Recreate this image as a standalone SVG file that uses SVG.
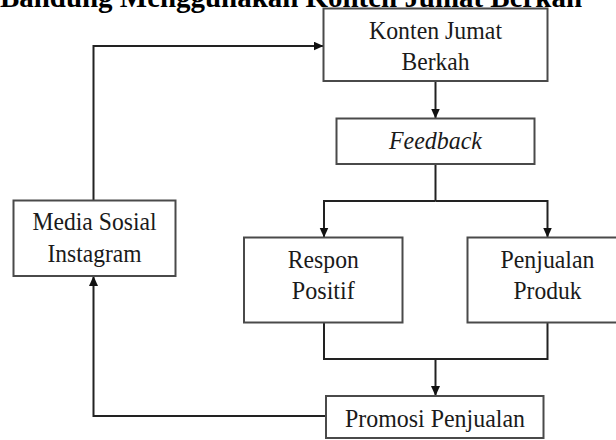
<svg xmlns="http://www.w3.org/2000/svg" width="616" height="440" viewBox="0 0 616 440">
  <style>
    .box { fill: #ffffff; stroke: #4a4a4a; stroke-width: 2; }
    .lbl { font-family: "Liberation Serif", "Times New Roman", serif; font-size: 25.5px; fill: #1a1a1a; text-anchor: middle; }
    .it { font-style: italic; }
    .title { font-family: "Liberation Serif", "Times New Roman", serif; font-size: 29px; font-weight: bold; fill: #000000; }
    .edge { fill: none; stroke: #222222; stroke-width: 2; }
  </style>
  <defs>
    <marker id="arrow" markerUnits="userSpaceOnUse" markerWidth="11" markerHeight="10" refX="10" refY="4.5" orient="auto">
      <path d="M0,0 L10,4.5 L0,9 Z" fill="#111111"/>
    </marker>
  </defs>
  <rect width="616" height="440" fill="#ffffff"/>

  <text class="title" x="0" y="7" textLength="582" lengthAdjust="spacingAndGlyphs">Bandung Menggunakan Konten Jumat Berkah</text>

  <g id="connectors">
    <path class="edge" d="M93.5,200.5 L93.5,46 L323.5,46" marker-end="url(#arrow)"/>
    <path class="edge" d="M435.5,81 L435.5,118.5" marker-end="url(#arrow)"/>
    <path class="edge" d="M435.5,164 L435.5,201"/>
    <path class="edge" d="M435.5,201 L324,201 L324,237.5" marker-end="url(#arrow)"/>
    <path class="edge" d="M435.5,201 L547.5,201 L547.5,237.5" marker-end="url(#arrow)"/>
    <path class="edge" d="M324,322.5 L324,359 L547.5,359 L547.5,322.5"/>
    <path class="edge" d="M435.5,359 L435.5,396" marker-end="url(#arrow)"/>
    <path class="edge" d="M326,416 L93.5,416 L93.5,276" marker-end="url(#arrow)"/>
  </g>

  <g id="konten">
    <rect class="box" x="323.5" y="8.5" width="224" height="72.5"/>
    <text class="lbl" x="435.5" y="38.5" textLength="133" lengthAdjust="spacingAndGlyphs">Konten Jumat</text>
    <text class="lbl" x="435.5" y="70" textLength="68" lengthAdjust="spacingAndGlyphs">Berkah</text>
  </g>

  <g id="feedback">
    <rect class="box" x="336.5" y="118.5" width="198" height="45.5"/>
    <text class="lbl it" x="435.5" y="148.5" textLength="93" lengthAdjust="spacingAndGlyphs">Feedback</text>
  </g>

  <g id="media">
    <rect class="box" x="13.5" y="200.5" width="162" height="75.5"/>
    <text class="lbl" x="94.5" y="230" textLength="124" lengthAdjust="spacingAndGlyphs">Media Sosial</text>
    <text class="lbl" x="94.5" y="261.5" textLength="94" lengthAdjust="spacingAndGlyphs">Instagram</text>
  </g>

  <g id="respon">
    <rect class="box" x="244" y="237.5" width="158.5" height="85"/>
    <text class="lbl" x="323.3" y="268" textLength="71" lengthAdjust="spacingAndGlyphs">Respon</text>
    <text class="lbl" x="323.3" y="299" textLength="63" lengthAdjust="spacingAndGlyphs">Positif</text>
  </g>

  <g id="penjualan">
    <rect class="box" x="467.5" y="237.5" width="160" height="85"/>
    <text class="lbl" x="547.5" y="268" textLength="94" lengthAdjust="spacingAndGlyphs">Penjualan</text>
    <text class="lbl" x="547.5" y="299" textLength="68" lengthAdjust="spacingAndGlyphs">Produk</text>
  </g>

  <g id="promosi">
    <rect class="box" x="326" y="396" width="217.5" height="42"/>
    <text class="lbl" x="435" y="426.5" textLength="180" lengthAdjust="spacingAndGlyphs">Promosi Penjualan</text>
  </g>
</svg>
